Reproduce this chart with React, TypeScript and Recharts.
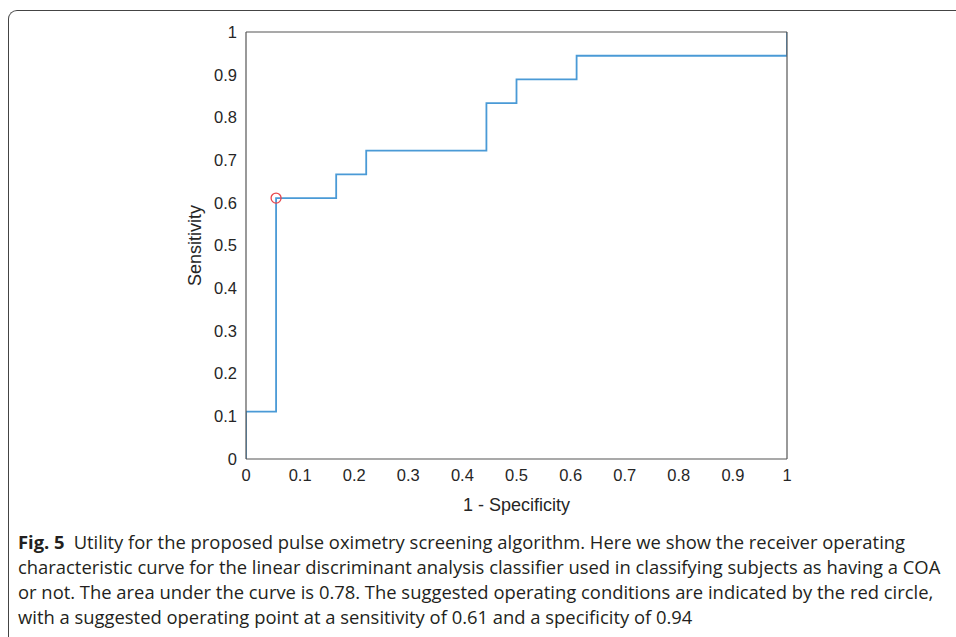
import React from 'react';
import { ComposedChart, Line, Scatter, XAxis, YAxis } from 'recharts';

const fpr = [0, 0, 0.0556, 0.1667, 0.2222, 0.4444, 0.5, 0.6111, 1];
const tpr = [0, 0.1111, 0.6111, 0.6667, 0.7222, 0.8333, 0.8889, 0.9444, 1];
const opFpr = [0.0556];
const opTpr = [0.6111];
const xTicks = [0, 0.1, 0.2, 0.3, 0.4, 0.5, 0.6, 0.7, 0.8, 0.9, 1];
const yTicks = [0, 0.1, 0.2, 0.3, 0.4, 0.5, 0.6, 0.7, 0.8, 0.9, 1];
const xLabel = '1 - Specificity';
const yLabel = 'Sensitivity';
const captionBold = 'Fig. 5';
const captionLines = [
  'Utility for the proposed pulse oximetry screening algorithm. Here we show the receiver operating',
  'characteristic curve for the linear discriminant analysis classifier used in classifying subjects as having a COA',
  'or not. The area under the curve is 0.78. The suggested operating conditions are indicated by the red circle,',
  'with a suggested operating point at a sensitivity of 0.61 and a specificity of 0.94',
];

const rocData = fpr.map((x, i) => ({ fpr: x, tpr: tpr[i] }));
const opData = opFpr.map((x, i) => ({ fpr: x, tpr: opTpr[i] }));

const AX = '#555';
const TXT = '#262626';
const FONT = '"Liberation Sans", Arial, sans-serif';
const TICK_FS = 16.5;

const RedCircle = (props: any) => (
  <circle cx={props.cx} cy={props.cy} r={5} fill="none" stroke="#e8474c" strokeWidth={1.3} />
);

const XTick = (p: any) => (
  <text x={p.x} y={p.y} dy="0.71em" textAnchor="middle" fill={TXT} fontSize={TICK_FS} fontFamily={FONT}>
    {String(p.payload.value)}
  </text>
);

const YTick = (p: any) => (
  <text x={p.x} y={p.y} dy="0.355em" textAnchor="end" fill={TXT} fontSize={TICK_FS} fontFamily={FONT}>
    {String(p.payload.value)}
  </text>
);

export default function App() {
  return (
    <div style={{ position: 'fixed', left: 0, top: 0, width: 956, height: 637, background: '#fff', overflow: 'hidden' }}>
      <div
        style={{
          position: 'absolute', left: 8, top: 10, width: 1000, height: 700,
          borderTop: '1.5px solid #444', borderLeft: '1.5px solid #444', borderTopLeftRadius: 9,
        }}
      />
      <div style={{ position: 'absolute', left: 150, top: 22 }}>
        <ComposedChart width={660} height={520} margin={{ top: 10, right: 23, bottom: 23, left: 36 }}>
          <XAxis
            xAxisId={0} type="number" dataKey="fpr" domain={[0, 1]} ticks={xTicks}
            allowDataOverflow tickLine={false} tickSize={5} tickMargin={5} height={60}
            axisLine={{ stroke: AX, strokeWidth: 1.2 }}
            tick={XTick}
            label={{ value: xLabel, position: 'insideBottom', offset: 8, fill: TXT, fontSize: 18, fontFamily: FONT }}
          />
          <XAxis
            xAxisId="bt" type="number" orientation="bottom" mirror domain={[0, 1]} ticks={xTicks}
            allowDataOverflow tick={false} tickSize={5} axisLine={false}
            tickLine={{ stroke: AX, strokeWidth: 1.2 }}
          />
          <XAxis
            xAxisId="top" type="number" orientation="top" mirror domain={[0, 1]} ticks={xTicks}
            allowDataOverflow tick={false} tickSize={5}
            axisLine={{ stroke: AX, strokeWidth: 1.2 }} tickLine={{ stroke: AX, strokeWidth: 1.2 }}
          />
          <YAxis
            yAxisId={0} type="number" dataKey="tpr" domain={[0, 1]} ticks={yTicks}
            allowDataOverflow tickLine={false} tickSize={5} tickMargin={4} width={60}
            axisLine={{ stroke: AX, strokeWidth: 1.2 }}
            tick={YTick}
            label={{ value: yLabel, angle: -90, position: 'insideLeft', offset: 9, fill: TXT, fontSize: 18, fontFamily: FONT, style: { textAnchor: 'middle' } }}
          />
          <YAxis
            yAxisId="lt" type="number" orientation="left" mirror domain={[0, 1]} ticks={yTicks}
            allowDataOverflow tick={false} tickSize={5} axisLine={false}
            tickLine={{ stroke: AX, strokeWidth: 1.2 }}
          />
          <YAxis
            yAxisId="right" type="number" orientation="right" mirror domain={[0, 1]} ticks={yTicks}
            allowDataOverflow tick={false} tickSize={5}
            axisLine={{ stroke: AX, strokeWidth: 1.2 }} tickLine={{ stroke: AX, strokeWidth: 1.2 }}
          />
          <Line
            data={rocData} dataKey="tpr" type="stepAfter" stroke="#4a9ad6" strokeWidth={1.8}
            dot={false} activeDot={false} isAnimationActive={false}
          />
          <Scatter data={opData} dataKey="tpr" shape={RedCircle} isAnimationActive={false} />
        </ComposedChart>
      </div>
      <div
        style={{
          position: 'absolute', left: 18, top: 529, fontFamily: '"Open Sans", "Noto Sans", sans-serif',
          fontSize: 18.4, lineHeight: '25px', color: '#231f20', whiteSpace: 'nowrap',
        }}
      >
        {captionLines.map((ln, i) => (
          <div key={i}>
            {i === 0 ? <b style={{ marginRight: 9 }}>{captionBold}</b> : null}
            {ln}
          </div>
        ))}
      </div>
    </div>
  );
}
